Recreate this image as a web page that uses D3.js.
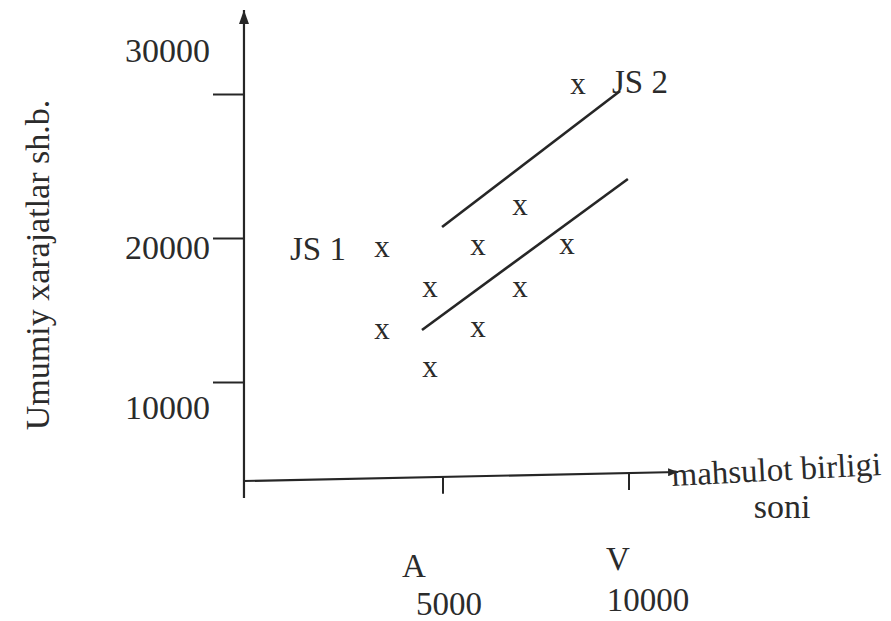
<!DOCTYPE html>
<html>
<head>
<meta charset="utf-8">
<script src="https://cdn.jsdelivr.net/npm/d3@7"></script>
<style>
  body { margin: 0; background: #fff; }
  text { font-family: "Liberation Serif", "Times New Roman", serif; fill: #2b2b2b; }
</style>
</head>
<body>
<div id="chart"></div>
<script>
// Data (x = units produced, y = total costs)
var pointsX = [3360, 3360, 4650, 4650, 5940, 5940, 7070, 7070, 8330, 8630];
var pointsY = [19170, 13470, 16390, 10830, 19310, 13610, 22080, 16390, 19380, 30490];

// The two cost lines (start, end)
var lineNames = ["lower", "upper"];
var linesX = [[4435, 9970], [4975, 9760]];
var linesY = [[13610, 24100], [20760, 30210]];

// Line labels
var labelNames = ["JS 1", "JS 2"];
var labelX = [887, 9543];
var labelY = [18470, 30070];

// Ticks
var yTicks = [10000, 20000, 30000];
var yTickLabels = ["10000", "20000", "30000"];
var xTicks = [5000, 10000];
var xTickLetters = ["A", "V"];
var xTickLabels = ["5000", "10000"];

var width = 891, height = 621;

var svg = d3.select("#chart")
  .append("svg")
  .attr("width", width)
  .attr("height", height);

// Scales
var x = d3.scaleLinear().domain([5000, 10000]).range([443, 629]);
var y = d3.scaleLinear().domain([10000, 30000]).range([382, 94]);

// where the axes sit (in data units)
var xOrigin = -350, yOrigin = 3125, yEndRight = 3750, xEnd = 11320;
var yTop = 35830, yBottom = 1940;

var ink = "#262626";

// Arrow heads
var defs = svg.append("defs");
defs.append("marker")
  .attr("id", "arrowY")
  .attr("viewBox", "0 0 10 14")
  .attr("refX", 5).attr("refY", 0)
  .attr("markerWidth", 10).attr("markerHeight", 14)
  .attr("markerUnits", "userSpaceOnUse")
  .attr("orient", "0")
  .append("path")
  .attr("d", "M5,0 L10,14 L0,14 Z")
  .attr("fill", ink);
defs.append("marker")
  .attr("id", "arrowX")
  .attr("viewBox", "0 0 10 8")
  .attr("refX", 10).attr("refY", 4)
  .attr("markerWidth", 10).attr("markerHeight", 8)
  .attr("markerUnits", "userSpaceOnUse")
  .attr("orient", "auto")
  .append("path")
  .attr("d", "M0,0 L10,4 L0,8 Z")
  .attr("fill", ink);

// Y axis line
svg.append("line")
  .attr("x1", x(xOrigin)).attr("x2", x(xOrigin))
  .attr("y1", y(yBottom)).attr("y2", y(yTop))
  .attr("stroke", ink)
  .attr("stroke-width", 2.2)
  .attr("marker-end", "url(#arrowY)");

// Y ticks with the library axis
var yAxis = svg.append("g")
  .attr("transform", "translate(" + x(xOrigin) + ",0)")
  .call(d3.axisLeft(y).tickValues(yTicks).tickSize(31).tickFormat(""));
yAxis.select(".domain").remove();
yAxis.selectAll("line").attr("stroke", ink).attr("stroke-width", 2);

// Y tick labels (placed a bit off the ticks like in the book)
var yLabelShift = [25, 9, -44];
svg.selectAll(".ylab")
  .data(yTicks)
  .enter()
  .append("text")
  .attr("class", "ylab")
  .attr("x", x(xOrigin) - 34)
  .attr("y", function (d, i) { return y(d) + yLabelShift[i]; })
  .attr("dy", "0.35em")
  .attr("text-anchor", "end")
  .style("font-size", "34px")
  .text(function (d, i) { return yTickLabels[i]; });

// X axis line (slightly tilted in the scan)
svg.append("line")
  .attr("x1", x(xOrigin)).attr("y1", y(yOrigin))
  .attr("x2", x(xEnd)).attr("y2", y(yEndRight))
  .attr("stroke", ink)
  .attr("stroke-width", 2.2)
  .attr("marker-end", "url(#arrowX)");

var axisYAt = d3.scaleLinear()
  .domain([xOrigin, xEnd])
  .range([y(yOrigin), y(yEndRight)]);

// X ticks
svg.selectAll(".xtick")
  .data(xTicks)
  .enter()
  .append("line")
  .attr("class", "xtick")
  .attr("x1", function (d) { return x(d); })
  .attr("x2", function (d) { return x(d); })
  .attr("y1", function (d) { return axisYAt(d); })
  .attr("y2", function (d) { return axisYAt(d) + 17; })
  .attr("stroke", ink)
  .attr("stroke-width", 2);

// Letters under ticks
var letterShift = [[-29, 577], [-11, 570]];
svg.selectAll(".xletter")
  .data(xTicks)
  .enter()
  .append("text")
  .attr("class", "xletter")
  .attr("x", function (d, i) { return x(d) + letterShift[i][0]; })
  .attr("y", function (d, i) { return letterShift[i][1]; })
  .attr("text-anchor", "middle")
  .style("font-size", "33px")
  .text(function (d, i) { return xTickLetters[i]; });

var numShift = [[6, 615], [19, 611]];
svg.selectAll(".xnum")
  .data(xTicks)
  .enter()
  .append("text")
  .attr("class", "xnum")
  .attr("x", function (d, i) { return x(d) + numShift[i][0]; })
  .attr("y", function (d, i) { return numShift[i][1]; })
  .attr("text-anchor", "middle")
  .style("font-size", "33px")
  .text(function (d, i) { return xTickLabels[i]; });

// Axis titles
svg.append("text")
  .attr("transform", "translate(672,486) rotate(-3)")
  .style("font-size", "33px")
  .text("mahsulot birligi");
svg.append("text")
  .attr("x", 782).attr("y", 518)
  .attr("text-anchor", "middle")
  .style("font-size", "34px")
  .text("soni");

svg.append("text")
  .attr("transform", "translate(49,265) rotate(-90)")
  .attr("text-anchor", "middle")
  .style("font-size", "34px")
  .text("Umumiy xarajatlar sh.b.");

// Cost lines
svg.selectAll(".costline")
  .data(lineNames)
  .enter()
  .append("line")
  .attr("class", "costline")
  .attr("x1", function (d, i) { return x(linesX[i][0]); })
  .attr("y1", function (d, i) { return y(linesY[i][0]); })
  .attr("x2", function (d, i) { return x(linesX[i][1]); })
  .attr("y2", function (d, i) { return y(linesY[i][1]); })
  .attr("stroke", ink)
  .attr("stroke-width", 2.6);

// Observations drawn as "x"
svg.selectAll(".pt")
  .data(pointsX)
  .enter()
  .append("text")
  .attr("class", "pt")
  .attr("x", function (d) { return x(d); })
  .attr("y", function (d, i) { return y(pointsY[i]); })
  .attr("dy", "0.22em")
  .attr("text-anchor", "middle")
  .style("font-size", "31px")
  .text("x");

// JS labels
svg.selectAll(".js")
  .data(labelNames)
  .enter()
  .append("text")
  .attr("class", "js")
  .attr("x", function (d, i) { return x(labelX[i]); })
  .attr("y", function (d, i) { return y(labelY[i]); })
  .style("font-size", "33px")
  .text(function (d) { return d; });
</script>
</body>
</html>
